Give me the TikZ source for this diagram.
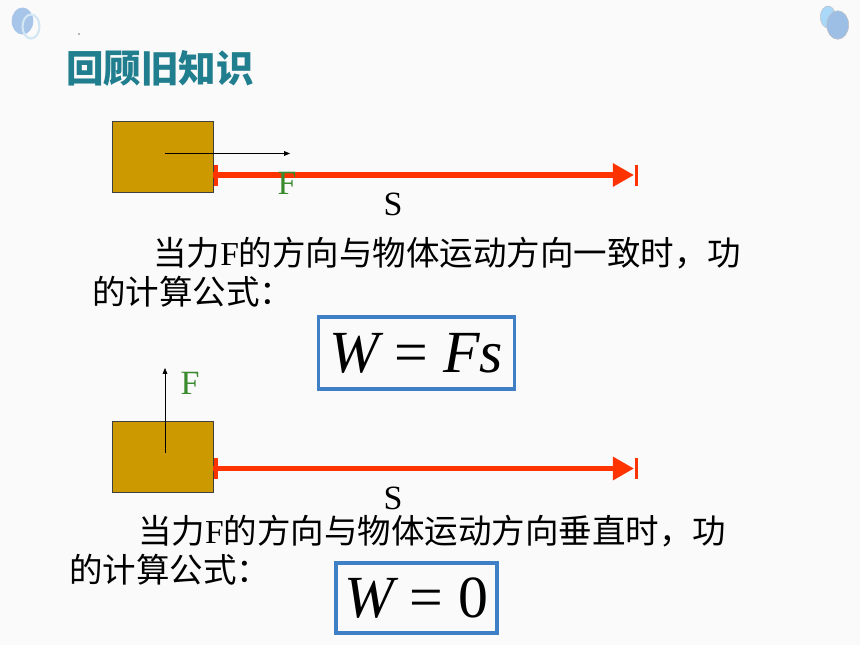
\documentclass[tikz,border=0pt]{standalone}
\usepackage{fontspec}
\setmainfont{Liberation Serif}
\newfontfamily\cjk{Noto Sans CJK SC}
\usetikzlibrary{arrows.meta,calc,positioning}

\definecolor{bgcol}{HTML}{FAFAFA}
\definecolor{titlecol}{HTML}{217E8E}
\definecolor{blockcol}{HTML}{CC9900}
\definecolor{redcol}{HTML}{FF3300}
\definecolor{fcol}{HTML}{3A8A2E}
\definecolor{boxcol}{HTML}{3F7FC6}
\definecolor{dotlight}{HTML}{A9D8F8}
\definecolor{dotdark}{HTML}{9DBFE6}
\definecolor{ringcol}{HTML}{D3E6F3}

\tikzset{
  blockbox/.style={draw=black!75,line width=0.5pt,fill=blockcol,minimum width=3.03cm,minimum height=2.13cm,inner sep=0pt,outer sep=0pt},
  redline/.style={draw=redcol,line width=4.9pt,-{Triangle[length=18pt,width=19pt]}},
  redbar/.style={draw=redcol,line width=3.4pt},
  farrow/.style={draw=black,line width=0.6pt,-{Triangle[length=5pt,width=4pt]}},
  flabel/.style={text=fcol,font=\fontsize{29}{30}\selectfont,inner sep=0pt},
  slabel/.style={text=black,font=\fontsize{29}{30}\selectfont,inner sep=0pt},
  txt/.style={anchor=west,inner sep=0pt,font=\cjk\fontsize{28.6}{30}\selectfont},
  fbox/.style={draw=boxcol,line width=2.6pt,inner sep=0pt,font=\fontsize{51}{52}\selectfont}
}

\begin{document}
\begin{tikzpicture}[x={(0.03cm,0)},y={(0,-0.03cm)}]
\useasboundingbox (0,0) rectangle (860,645);
\fill[bgcol] (0,0) rectangle (860,645);

\fill[dotdark!90!white] (22.5,21) ellipse [x radius=10.8,y radius=13.5];
\draw[ringcol,line width=1.8pt] (31,26.5) ellipse [x radius=8.5,y radius=12];
\fill[black!55] (79,34) circle [radius=0.8];
\draw[black!25,fill=dotlight] (828,17) ellipse [x radius=7.7,y radius=11];
\draw[black!25,fill=dotdark] (837.7,25) ellipse [x radius=11,y radius=14.3];

\node[text=titlecol,inner sep=0pt,font=\cjk\bfseries\fontsize{32}{34}\selectfont] (title) at (160,68) {回顾旧知识};

\node[blockbox] (blk1) at (162.5,156.5) {};
\coordinate (s1a) at (216,175);
\coordinate (s1b) at (636.5,175);
\coordinate (f1tip) at (290,153.5);
\draw[redline] (blk1.east |- s1a) -- ($(s1b)+(-2.5,0)$);
\draw[redbar] ($(s1a)+(0,-10.5)$) -- ($(s1a)+(0,10.5)$);
\draw[redbar] ($(s1b)+(0,-10.5)$) -- ($(s1b)+(0,10.5)$);
\draw[farrow] ($(blk1.center)+(2,-3)$) -- (f1tip);
\node[flabel] (f1) at (287,183) {F};
\node[slabel] (s1) at (393,204.5) {S};

\node[txt] (t1) at (153,253) {当力{\rmfamily F}的方向与物体运动方向一致时，功};
\node[txt] (t2) at (92,292) {的计算公式：};
\node[fbox,minimum width=5.88cm,minimum height=2.16cm] (w1) at (416.5,353) {\itshape W\upshape{} = \itshape Fs};

\node[blockbox] (blk2) at (162.5,457) {};
\coordinate (s2a) at (216,468.5);
\coordinate (s2b) at (636.5,468.5);
\coordinate (f2tip) at (165,368);
\draw[redline] (blk2.east |- s2a) -- ($(s2b)+(-2.5,0)$);
\draw[redbar] ($(s2a)+(0,-10.5)$) -- ($(s2a)+(0,10.5)$);
\draw[redbar] ($(s2b)+(0,-10.5)$) -- ($(s2b)+(0,10.5)$);
\draw[farrow] ($(blk2.center)+(2.5,-4)$) -- (f2tip);
\node[flabel] (f2) at (190,383) {F};
\node[slabel] (s2) at (393,498) {S};

\node[txt] (t3) at (138,531) {当力{\rmfamily F}的方向与物体运动方向垂直时，功};
\node[txt] (t4) at (69,570) {的计算公式：};
\node[fbox,minimum width=4.83cm,minimum height=2.1cm] (w2) at (416.5,598) {\itshape W\upshape{} = 0};
\end{tikzpicture}
\end{document}
